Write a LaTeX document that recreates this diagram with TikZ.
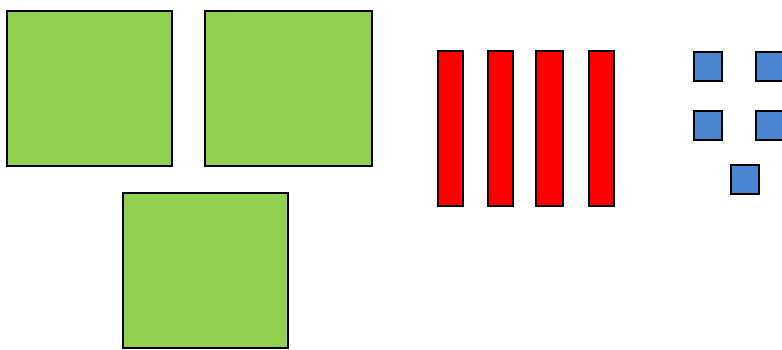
\documentclass[tikz,border=0pt]{standalone}
\usepackage{xcolor}
\usepackage{tikz}
\usetikzlibrary{positioning}
\definecolor{flatgreen}{HTML}{92D050}
\definecolor{flatred}{HTML}{FF0000}
\definecolor{unitblue}{HTML}{4A86CF}

\begin{document}
\begin{tikzpicture}[
  x=1pt, y=-1pt,
  piece/.style={draw=black, line width=1.3pt, inner sep=0pt, outer sep=0pt, anchor=north west},
  hundred/.style={piece, fill=flatgreen, minimum width=165pt, minimum height=155pt},
  ten/.style={piece, fill=flatred, minimum width=25pt, minimum height=155pt},
  one/.style={piece, fill=unitblue, minimum width=28pt, minimum height=29pt}
]
\useasboundingbox (0,0) rectangle (782,349);
\clip (0,0) rectangle (782,349);
% hundreds
\node[hundred] (h1) at (7,11) {};
\node[hundred, minimum width=167pt] (h2) at (205,11) {};
\node[hundred] (h3) at (123,193) {};
% tens
\node[ten] (t1) at (438,51) {};
\node[ten] (t2) at (488,51) {};
\node[ten, minimum width=27pt] (t3) at (536,51) {};
\node[ten] (t4) at (589,51) {};
% ones
\node[one] (o1) at (694,52) {};
\node[one] (o2) at (756,52) {};
\node[one] (o3) at (694,111) {};
\node[one] (o4) at (756,111) {};
\node[one] (o5) at (731,165) {};
\end{tikzpicture}
\end{document}
